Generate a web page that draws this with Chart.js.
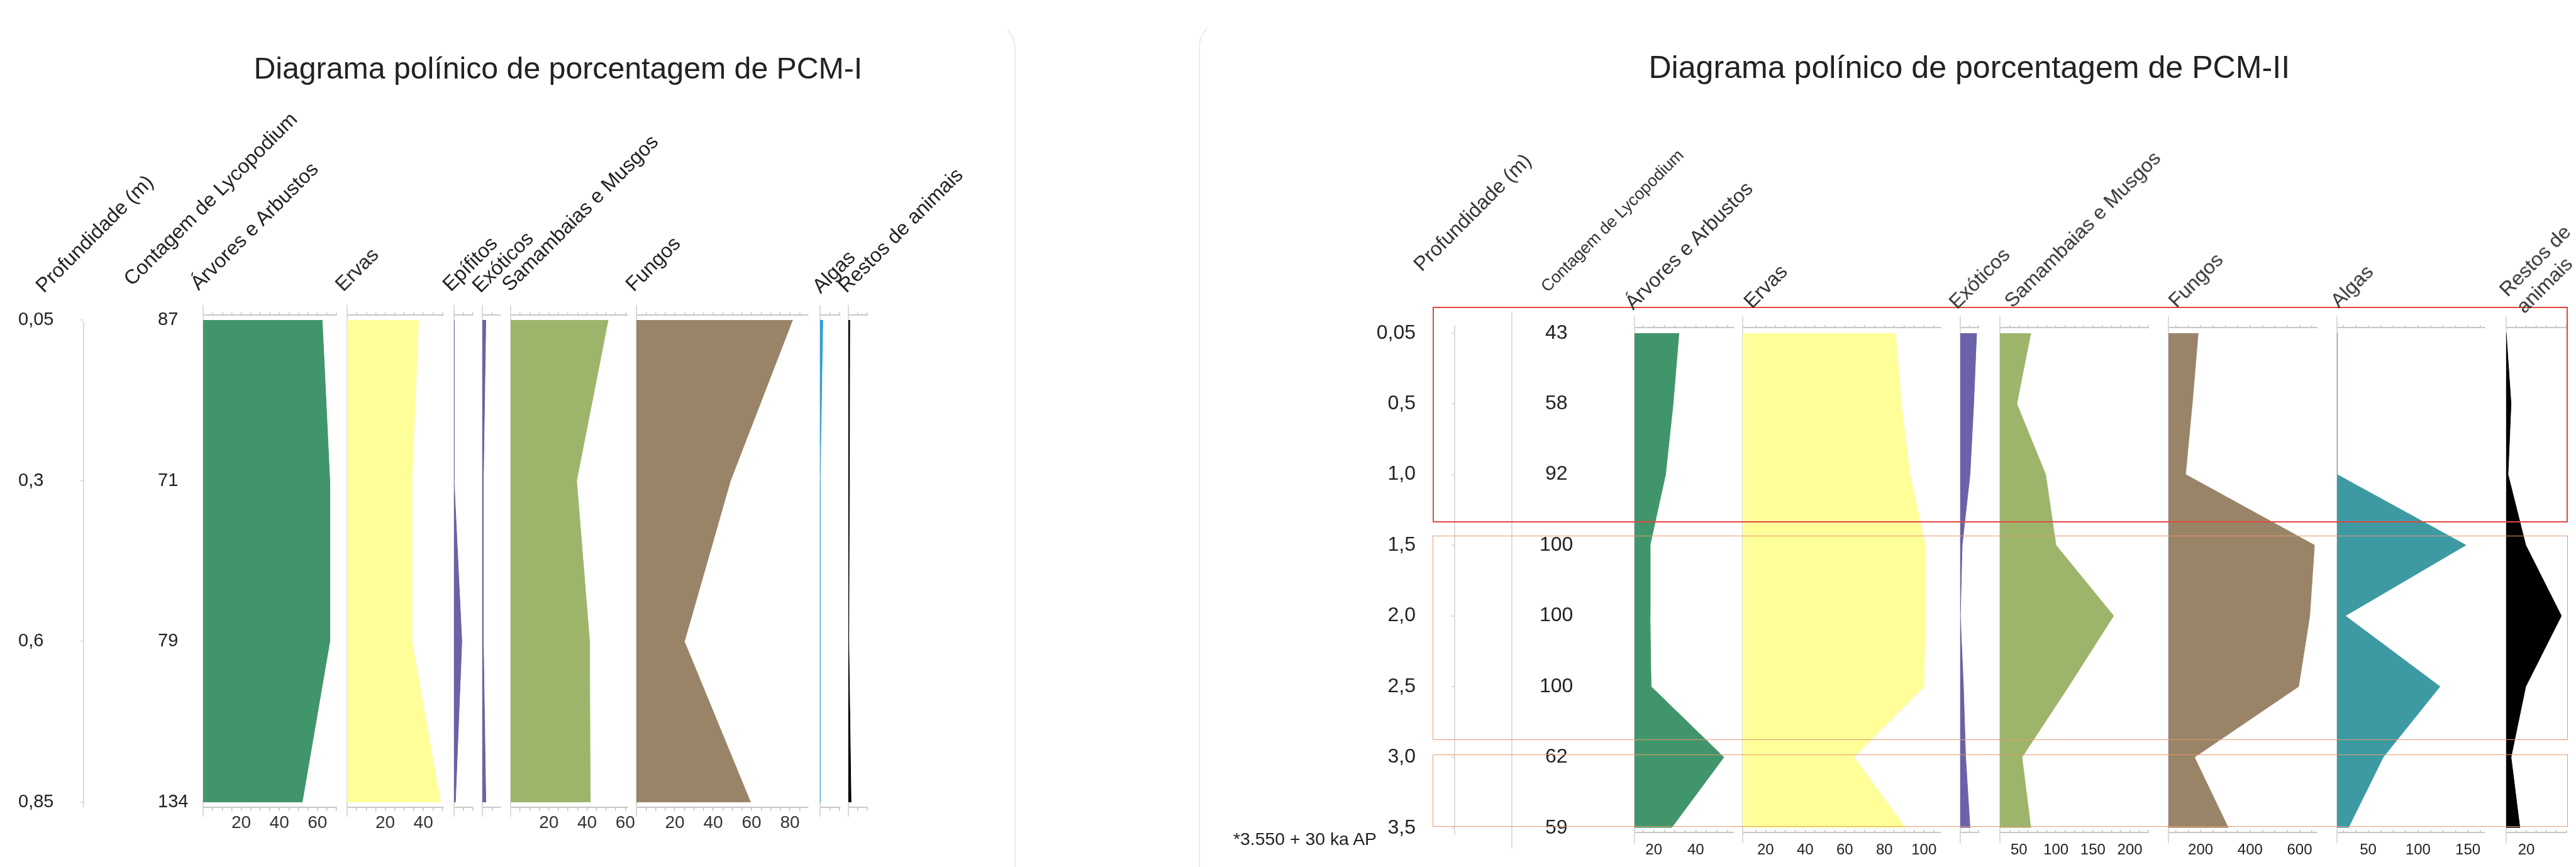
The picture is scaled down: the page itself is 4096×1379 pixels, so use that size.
<!DOCTYPE html>
<html lang="pt">
<head>
<meta charset="utf-8">
<title>Diagramas polínicos PCM-I e PCM-II</title>
<script src="https://cdn.jsdelivr.net/npm/chart.js@4.4.1/dist/chart.umd.min.js"></script>
<style>
  html, body { margin: 0; padding: 0; background: #fff; overflow: hidden; }
  #stage { position: relative; width: 4096px; height: 1379px; overflow: hidden;
           font-family: "Liberation Sans", Arial, sans-serif; }
  #stage canvas { position: absolute; }
  .txt { position: absolute; white-space: nowrap; }
  .box { position: absolute; box-sizing: border-box; pointer-events: none; }
</style>
</head>
<body>
<div id="stage"></div>
<script>
// ---------- PCM-I ----------
const profI = ['0,05', '0,3', '0,6', '0,85'];
const lycoI = ['87', '71', '79', '134'];
const arvoresI = [62.5, 66.5, 66.5, 52];
const ervasI = [37.5, 34, 34, 49];
const epifitosI = [0, 0, 4.1, 0.7];
const exoticosI = [1.8, 0.5, 0.5, 1.8];
const samambaiasI = [51, 34.5, 41.3, 41.6];
const fungosI = [81.4, 49, 25, 59.5];
const algasI = [1.4, 0, 0, 0];
const restosI = [0.7, 0.5, 0.2, 1.4];
const ticksArvoresI = [20, 40, 60];
const ticksErvasI = [20, 40];
const ticksSamambaiasI = [20, 40, 60];
const ticksFungosI = [20, 40, 60, 80];

// ---------- PCM-II ----------
const profII = ['0,05', '0,5', '1,0', '1,5', '2,0', '2,5', '3,0', '3,5'];
const lycoII = ['43', '58', '92', '100', '100', '100', '62', '59'];
const arvoresII = [32, 29.2, 25.6, 18.2, 18.2, 18.7, 53.4, 28.4];
const ervasII = [85.7, 88.5, 92.9, 100.7, 100.6, 100, 64.7, 90.7];
const exoticosII = [8.9, 7.3, 5.3, 1.0, 0, 1.7, 2.9, 5.3];
const samambaiasII = [66, 47, 86, 100, 178, 117, 54, 66];
const fungosII = [190, 166, 139, 660, 641, 596, 175, 312];
const algasII = [18.7, 18.7, 18.7, 148, 27, 122, 65, 30];
const restosII = [10, 12.4, 10.9, 19.7, 37.4, 19.7, 12.4, 16.8];
const ticksArvoresII = [20, 40];
const ticksErvasII = [20, 40, 60, 80, 100];
const ticksSamambaiasII = [50, 100, 150, 200];
const ticksFungosII = [200, 400, 600];
const ticksAlgasII = [50, 100, 150];
const ticksRestosII = [20];

// cores
const VERDE = '#41956a', AMARELO = '#ffff99', ROXO = '#6a62a8', SAMAMB = '#9db56b',
      FUNGO = '#9a8467', AZUL = '#2a9fd8', ALGA = '#3d9aa3', PRETO = '#000000';
const AXIS = '#c6c6c6', LINE = '#d9d9d9', TICK = '#c0c0c0';
const FONT = '"Liberation Sans", Arial, sans-serif';

// medidas da imagem original, reduzidas por S
const S = 0.946;
const R = v => Math.round(v * S);
const P = 100;   // folga em volta de cada área de gráfico
const stage = document.getElementById('stage');

const layoutI = {rowTop: 538, rowBottom: 1349, lineTop: 514, lineBottom: 1372,
                 axisTop: 530, axisBottom: 1357, tickSize: 30, labelY: 1384,
                 topTick: -5, botTick: 5, tickColor: '#333'};
const layoutII = {rowTop: 560, rowBottom: 1392, lineTop: 533, lineBottom: 1416,
                  axisTop: 551, axisBottom: 1399, tickSize: 25, labelY: 1430,
                  topTick: -5, botTick: -5, tickColor: '#222'};

const panelsI = [
  {x0: 341, x1: 566, min: 0, max: 70, step: 5, values: arvoresI, color: VERDE, ticks: ticksArvoresI},
  {x0: 584, x1: 745, min: 0, max: 50.5, step: 5, values: ervasI, color: AMARELO, ticks: ticksErvasI},
  {x0: 763, x1: 795, min: 0, max: 10, step: 5, values: epifitosI, color: ROXO, ticks: []},
  {x0: 811, x1: 841, min: 0, max: 9.5, step: 5, values: exoticosI, color: ROXO, ticks: []},
  {x0: 858, x1: 1055, min: 0, max: 61.2, step: 5, values: samambaiasI, color: SAMAMB, ticks: ticksSamambaiasI},
  {x0: 1070, x1: 1358, min: 0, max: 89.5, step: 5, values: fungosI, color: FUNGO, ticks: ticksFungosI},
  {x0: 1378, x1: 1412, min: 0, max: 10.5, step: 5, values: algasI, color: AZUL, ticks: []},
  {x0: 1426, x1: 1458, min: 0, max: 10, step: 5, values: restosI, color: PRETO, ticks: []}
];
const panelsII = [
  {x0: 2747, x1: 2914, min: 10.8, max: 58.2, step: 5, values: arvoresII, color: VERDE, ticks: ticksArvoresII},
  {x0: 2929, x1: 3262, min: 8.5, max: 108.5, step: 5, values: ervasII, color: AMARELO, ticks: ticksErvasII},
  {x0: 3295, x1: 3327, min: 0, max: 10.3, step: 5, values: exoticosII, color: ROXO, ticks: []},
  {x0: 3362, x1: 3611, min: 24.2, max: 225, step: 12.5, values: samambaiasII, color: SAMAMB, ticks: ticksSamambaiasII},
  {x0: 3645, x1: 3894, min: 70, max: 670, step: 50, values: fungosII, color: FUNGO, ticks: ticksFungosII},
  {x0: 3928, x1: 4177, min: 18.7, max: 167, step: 12.5, values: algasII, color: ALGA, ticks: ticksAlgasII},
  {x0: 4212, x1: 4314, min: 10, max: 40, step: 5, values: restosII, color: PRETO, ticks: ticksRestosII}
];

function addCanvas(left, top, w, h) {
  const c = document.createElement('canvas');
  c.width = w; c.height = h;
  c.style.left = left + 'px'; c.style.top = top + 'px';
  c.style.width = w + 'px'; c.style.height = h + 'px';
  stage.appendChild(c);
  return c;
}

function addDiv(cls, x0, y0, x1, y1, css) {
  const d = document.createElement('div');
  d.className = cls;
  d.style.cssText = `left:${R(x0)}px;top:${R(y0)}px;width:${R(x1 - x0)}px;height:${R(y1 - y0)}px;` + css;
  stage.appendChild(d);
  return d;
}

// texto com a linha de base (início) em (x, y)
function addText(str, x, y, size, o = {}) {
  const el = document.createElement('div');
  el.className = 'txt';
  el.innerHTML = str;
  const lh = o.lh || 1;
  const base = ((lh - 1.117) / 2 + 0.905) * size * S;
  el.style.left = (x * S) + 'px';
  el.style.top = (y * S - base) + 'px';
  el.style.fontSize = (size * S) + 'px';
  el.style.lineHeight = lh;
  el.style.color = o.color || '#222';
  if (o.center) el.style.transform = 'translateX(-50%)';
  if (o.rotate) {
    el.style.transformOrigin = `0 ${base}px`;
    el.style.transform = `rotate(${o.rotate}deg)`;
  }
  stage.appendChild(el);
}

// marcas menores do eixo: passo fixo dentro de [min, max]
function minorTicks(p) {
  const out = [{value: p.min}];
  for (let v = Math.ceil(p.min / p.step) * p.step; v <= p.max + 1e-9; v += p.step) {
    if (v - p.min > p.step * 0.3) out.push({value: v});
  }
  return out;
}

// uma coluna do diagrama (área preenchida a partir do eixo)
function panelChart(L, p) {
  const X0 = R(p.x0), X1 = R(p.x1), T = R(L.lineTop), B = R(L.lineBottom);
  const c = addCanvas(X0 - P, T - P, X1 - X0 + 2 * P, B - T + 2 * P);
  const n = p.values.length;
  const per = (L.rowBottom - L.rowTop) * S / (n - 1);
  const rowTop = L.rowTop * S;
  const yTopAxis = (L.axisTop * S - rowTop) / per;
  const yBotAxis = (L.axisBottom * S - rowTop) / per;
  const fs = R(L.tickSize);
  const botTl = R(L.botTick);
  const labelPad = R(L.labelY - L.axisBottom) - botTl - fs * 0.6;

  new Chart(c, {
    type: 'line',
    data: {
      datasets: [{
        xAxisID: 'x',
        data: p.values.map((v, i) => ({x: v, y: i})),
        backgroundColor: p.color,
        borderColor: p.color,
        borderWidth: 1,
        pointRadius: 0,
        tension: 0,
        fill: {value: p.min}
      }]
    },
    options: {
      indexAxis: 'y',
      responsive: false,
      animation: false,
      devicePixelRatio: 1,
      events: [],
      layout: {padding: P},
      plugins: {legend: {display: false}, tooltip: {enabled: false}},
      scales: {
        x: {
          type: 'linear', axis: 'x', position: {y: yBotAxis}, min: p.min, max: p.max,
          afterBuildTicks: a => { a.ticks = minorTicks(p); },
          grid: {drawOnChartArea: false, tickLength: botTl, color: TICK, lineWidth: 1.5 * S},
          border: {color: AXIS, width: 2 * S},
          ticks: {
            autoSkip: false, maxRotation: 0, padding: labelPad, color: L.tickColor,
            font: {family: FONT, size: fs},
            callback: v => (p.ticks.includes(v) ? String(v) : '')
          }
        },
        xTop: {
          type: 'linear', axis: 'x', position: {y: yTopAxis}, min: p.min, max: p.max,
          afterBuildTicks: a => { a.ticks = minorTicks(p); },
          grid: {drawOnChartArea: false, tickLength: R(L.topTick), color: TICK, lineWidth: 1.5 * S},
          border: {color: AXIS, width: 2 * S},
          ticks: {display: false}
        },
        y: {
          type: 'linear', position: 'left', reverse: true,
          min: (T - rowTop) / per, max: (B - rowTop) / per,
          afterFit: a => { a.width = 0; },
          grid: {display: false, drawTicks: false},
          border: {color: LINE, width: 2 * S},
          ticks: {display: false}
        }
      }
    }
  });
}

// coluna só com rótulos (profundidade, contagem)
function labelColumn(L, o) {
  const X = R(o.x), W = R(o.width), T = R(o.lineTop), B = R(o.lineBottom), E = 10;
  const left = o.position === 'left' ? X - W : X - E;
  const c = addCanvas(left - P, T - P, W + E + 2 * P, B - T + 2 * P);
  const n = o.labels.length;
  const per = (L.rowBottom - L.rowTop) * S / (n - 1);
  const rowTop = L.rowTop * S;

  new Chart(c, {
    type: 'line',
    data: {datasets: []},
    options: {
      responsive: false, animation: false, devicePixelRatio: 1, events: [],
      layout: {padding: P},
      plugins: {legend: {display: false}, tooltip: {enabled: false}},
      scales: {
        x: {type: 'linear', display: false, min: 0, max: 1},
        y: {
          type: 'linear', position: o.position, reverse: true,
          min: (T - rowTop) / per, max: (B - rowTop) / per,
          afterBuildTicks: a => { a.ticks = o.labels.map((_, i) => ({value: i})); },
          afterFit: a => { a.width = W; },
          grid: {drawOnChartArea: false, drawTicks: o.tick > 0, tickLength: R(o.tick || 0),
                 color: LINE, lineWidth: 2 * S},
          border: {display: o.border, color: LINE, width: 2 * S},
          ticks: {
            autoSkip: false, crossAlign: o.align, padding: R(o.pad), color: o.color,
            font: {family: FONT, size: R(o.size)}, callback: (v, i) => o.labels[i]
          }
        }
      }
    }
  });
}

// ---------- moldura dos cartões ----------
addDiv('box', -20, 36, 1707, 1600,
  `border-right:2px solid #ebebeb;border-top:2px solid transparent;border-top-right-radius:${R(45)}px;`);
addDiv('box', 2015, 34, 4400, 1600,
  `border-left:2px solid #ebebeb;border-top:2px solid transparent;border-top-left-radius:${R(45)}px;`);

// ---------- PCM-I ----------
labelColumn(layoutI, {x: 141, width: 110, position: 'left', lineTop: 541, lineBottom: 1356,
  labels: profI, tick: 5, pad: 4, align: 'far', border: true, size: 31, color: '#222'});
labelColumn(layoutI, {x: 250, width: 90, position: 'right', lineTop: 538, lineBottom: 1351,
  labels: lycoI, tick: 0, pad: 15, align: 'near', border: false, size: 31, color: '#222'});
panelsI.forEach(p => panelChart(layoutI, p));

// ---------- PCM-II ----------
labelColumn(layoutII, {x: 2445, width: 150, position: 'left', lineTop: 549, lineBottom: 1403,
  labels: profII, tick: 5, pad: 60, align: 'near', border: true, size: 34, color: '#222'});
labelColumn(layoutII, {x: 2541, width: 150, position: 'right', lineTop: 524, lineBottom: 1425,
  labels: lycoII, tick: 0, pad: 46, align: 'center', border: true, size: 34, color: '#222'});
panelsII.forEach(p => panelChart(layoutII, p));

// zonas marcadas no PCM-II
addDiv('box', 2408, 516, 4316, 879, `border:${3 * S}px solid #e5463f;`);
addDiv('box', 2408, 901, 4316, 1245, `border:${2 * S}px solid #e49b72;`);
addDiv('box', 2408, 1268, 4316, 1390, `border:${2 * S}px solid #e49b72;`);

// ---------- títulos e cabeçalhos ----------
addText('Diagrama polínico de porcentagem de PCM-I', 938, 132, 51, {center: true});
addText('Diagrama polínico de porcentagem de PCM-II', 3310, 132, 53, {center: true});

const headersI = [
  ['Profundidade (m)', 74, 494], ['Contagem de Lycopodium', 222, 482],
  ['Árvores e Arbustos', 334, 490], ['Ervas', 577, 492], ['Epífitos', 758, 492],
  ['Exóticos', 808, 494], ['Samambaias e Musgos', 857, 492], ['Fungos', 1066, 492],
  ['Algas', 1379, 495], ['Restos de animais', 1423, 494]
];
headersI.forEach(h => addText(h[0], h[1], h[2], 34, {rotate: -45, color: '#222'}));

const headersII = [
  ['Profundidade (m)', 2390, 458, 34], ['Contagem de Lycopodium', 2602, 493, 28],
  ['Árvores e Arbustos', 2745, 522, 34], ['Ervas', 2945, 520, 34], ['Exóticos', 3290, 521, 34],
  ['Samambaias e Musgos', 3383, 519, 34], ['Fungos', 3659, 519, 34], ['Algas', 3931, 519, 34]
];
headersII.forEach(h => addText(h[0], h[1], h[2], h[3], {rotate: -45, color: '#333'}));
addText('Restos de<br>animais', 4216, 501, 34, {rotate: -45, color: '#333', lh: 1.18});

addText('*3.550 + 30 ka AP', 2073, 1421, 30, {color: '#222'});
</script>
</body>
</html>
